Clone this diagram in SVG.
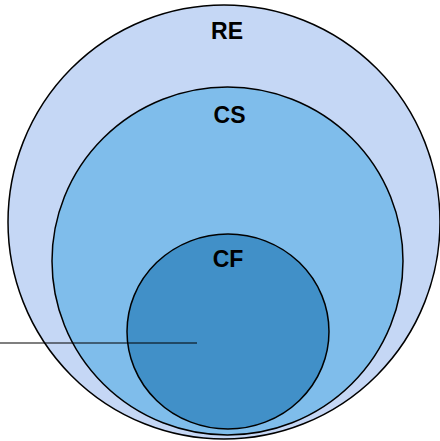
<svg xmlns="http://www.w3.org/2000/svg" width="440" height="441" viewBox="0 0 440 441">
<style>
.c{stroke:#000;stroke-width:1.5}
.t{font-family:"Liberation Sans",Arial,sans-serif;font-weight:bold;font-size:23px;fill:#000;text-anchor:middle}
</style>
<rect width="440" height="441" fill="#fff"/>
<g id="RE">
<ellipse class="c" cx="224" cy="222" rx="216" ry="217" fill="#C5D7F5"/>
<text class="t" x="227" y="39">RE</text>
</g>
<g id="CS">
<ellipse class="c" cx="227.5" cy="261" rx="175.5" ry="174" fill="#7FBDEB"/>
<text class="t" x="229.5" y="123">CS</text>
</g>
<g id="CF">
<ellipse class="c" cx="228" cy="331.5" rx="101" ry="97.5" fill="#4190C8"/>
<text class="t" x="228" y="267">CF</text>
</g>
<g id="connectors">
<line x1="0" y1="343" x2="197" y2="343" stroke="#000" stroke-width="1.2"/>
</g>
</svg>
